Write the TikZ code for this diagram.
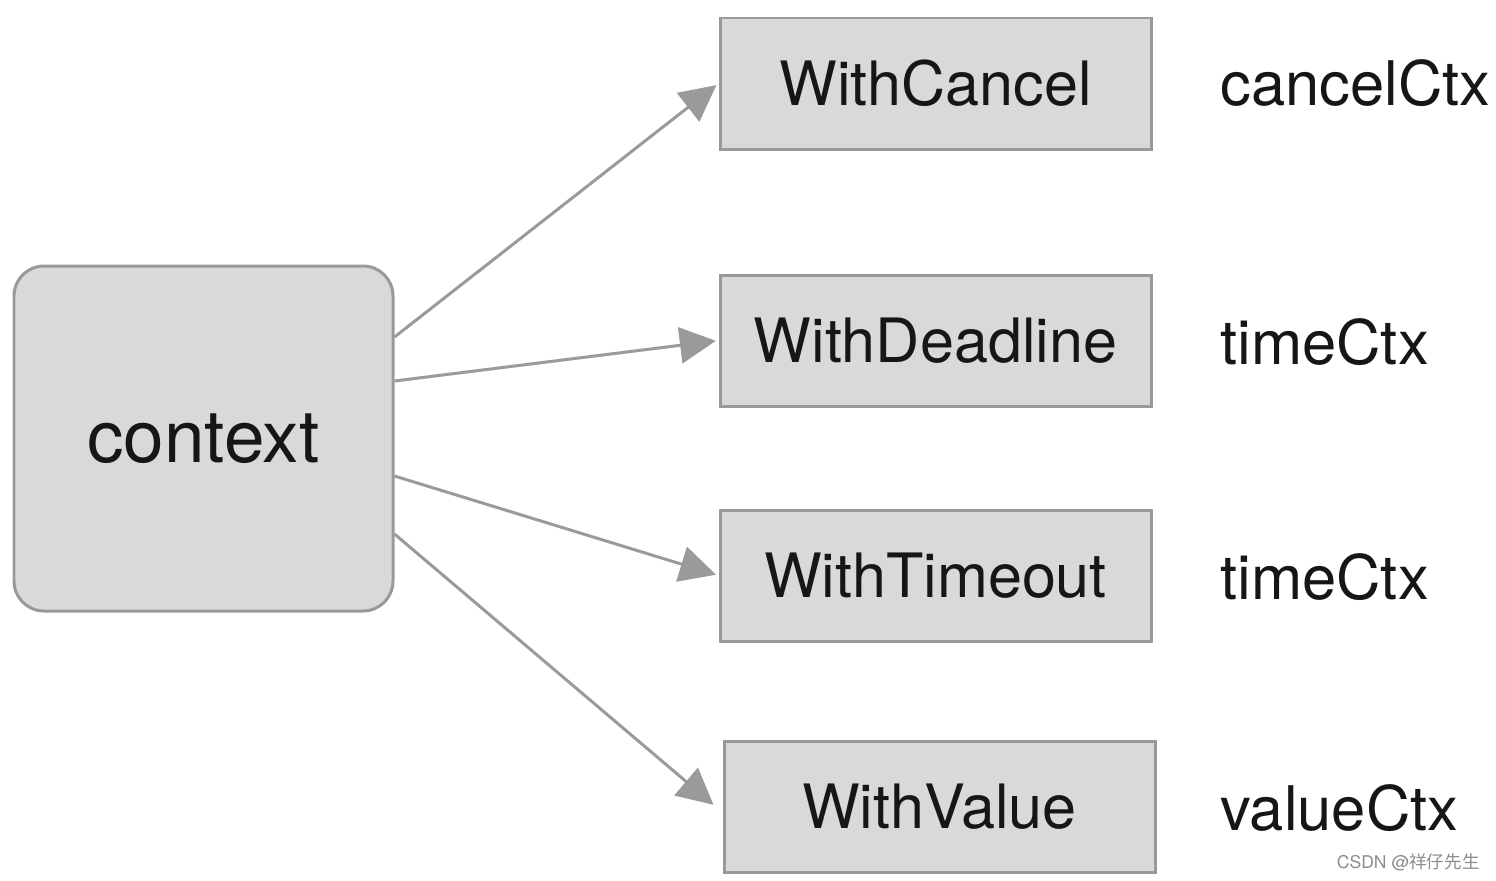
\documentclass[tikz,border=0pt]{standalone}
\usepackage{fontspec}
\setmainfont{TeX Gyre Heros}
\newfontfamily\cjkfont{Noto Sans CJK SC}
\usetikzlibrary{arrows.meta}
\definecolor{boxfill}{HTML}{D9D9D9}
\definecolor{boxline}{HTML}{999999}
\definecolor{arrowcol}{HTML}{9A9A9A}
\definecolor{markgray}{HTML}{8C8C8C}
\definecolor{txt}{HTML}{161616}
\tikzset{
  fnbox/.style={draw=boxline, fill=boxfill, line width=1.7pt, minimum width=431*0.02cm, minimum height=131*0.02cm, inner sep=0pt, text=txt, font=\fontsize{34.8}{40}\selectfont},
  ctxbox/.style={draw=boxline, fill=boxfill, line width=1.7pt, rounded corners=0.6cm, minimum width=379*0.02cm, minimum height=345*0.02cm, inner sep=0pt, text=txt, font=\fontsize{41.5}{48}\selectfont},
  typelabel/.style={anchor=west, inner sep=0pt, text=txt, font=\fontsize{35}{40}\selectfont},
  conn/.style={draw=arrowcol, line width=1.7pt, -{Triangle[length=20.5pt, width=20.5pt]}, shorten >=1.5pt},
}
\begin{document}
\begin{tikzpicture}[x=0.02cm, y=-0.02cm]
\useasboundingbox (0,0) rectangle (1496,880);
\node[ctxbox] (ctx) at (203.5,438.5) {context};
\node[fnbox] (wc) at (935.5,83.5) {WithCancel};
\node[fnbox] (wd) at (935.5,340.5) {WithDeadline};
\node[fnbox] (wt) at (935.5,575.5) {WithTimeout};
\node[fnbox] (wv) at (939.5,806.5) {WithValue};
\node[typelabel] (lc) at (1220,83) {cancelCtx};
\node[typelabel] (ld) at (1220,342) {timeCtx};
\node[typelabel] (lt) at (1220,577) {timeCtx};
\node[typelabel] (lv) at (1220,808) {valueCtx};
\draw[conn] (ctx.east |- 0,337) -- (wc.west);
\draw[conn] (ctx.east |- 0,381) -- (wd.west);
\draw[conn] (ctx.east |- 0,476) -- (wt.west);
\draw[conn] (ctx.east |- 0,534) -- ([xshift=-7*0.02cm]wv.west);
\node[anchor=east, inner sep=0pt, text=markgray, font=\fontsize{10}{12}\selectfont] (mark) at (1480,862) {CSDN @{\cjkfont 祥仔先生}};
\end{tikzpicture}
\end{document}
